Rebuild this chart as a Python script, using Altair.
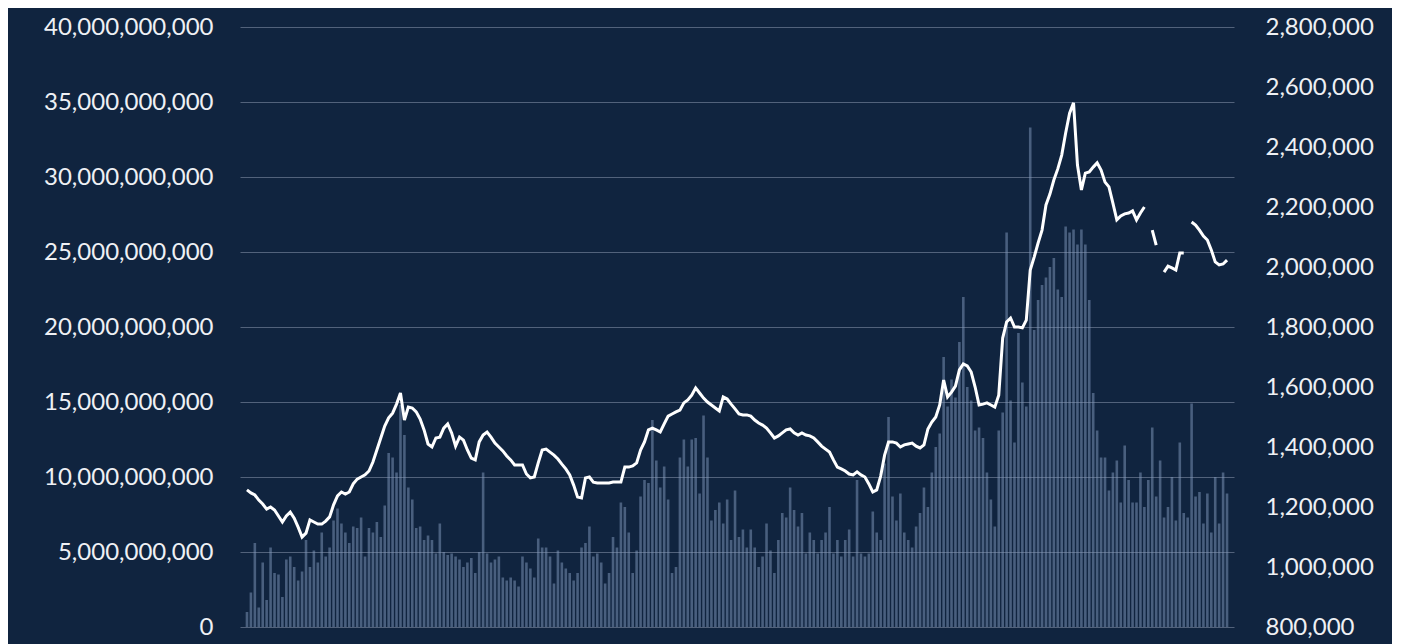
import altair as alt
import pandas as pd

# Daily turnover (in billions) and index level
volume_bn = [
    1.0, 2.3, 5.6, 1.3, 4.3, 1.8, 5.3, 3.6, 3.5, 2.0,
    4.5, 4.7, 4.0, 3.1, 3.7, 5.8, 4.0, 5.1, 4.3, 6.3,
    4.7, 5.3, 7.1, 7.9, 6.9, 6.3, 5.6, 6.7, 6.6, 7.3,
    4.7, 6.6, 6.3, 7.0, 6.0, 8.1, 11.6, 11.3, 10.3, 14.8,
    12.8, 9.3, 8.5, 6.6, 6.7, 5.8, 6.1, 5.8, 4.9, 6.9,
    5.0, 4.8, 4.9, 4.7, 4.5, 4.0, 4.3, 4.6, 3.6, 5.0,
    10.3, 4.9, 4.3, 4.5, 4.7, 3.3, 3.1, 3.3, 3.1, 2.7,
    4.7, 4.3, 3.9, 3.3, 5.9, 5.3, 5.3, 4.7, 2.9, 5.1,
    4.3, 3.9, 3.6, 3.1, 3.6, 5.3, 5.6, 6.7, 4.7, 4.9,
    4.3, 2.9, 3.6, 6.0, 5.3, 8.3, 8.0, 6.3, 3.6, 5.1,
    8.7, 9.8, 9.6, 13.8, 11.1, 9.3, 10.7, 8.5, 3.6, 4.0,
    11.3, 12.5, 10.7, 12.5, 12.6, 8.9, 14.1, 11.3, 7.1, 7.8,
    8.3, 6.9, 8.5, 5.8, 9.1, 6.0, 6.5, 5.3, 6.5, 5.3,
    4.0, 4.7, 6.9, 5.1, 3.6, 5.8, 7.6, 7.3, 9.3, 7.8,
    6.7, 7.6, 4.9, 6.3, 5.8, 4.9, 5.8, 6.3, 8.0, 4.9,
    5.8, 4.7, 5.8, 6.5, 4.7, 9.8, 4.9, 4.7, 4.9, 7.7,
    6.3, 5.8, 10.9, 14.0, 8.7, 7.1, 8.9, 6.3, 5.8, 5.3,
    6.7, 7.6, 9.3, 8.0, 10.3, 12.0, 12.9, 18.0, 14.7, 16.5,
    15.3, 19.0, 22.0, 16.0, 15.1, 13.1, 13.3, 12.6, 10.3, 8.5,
    6.7, 13.1, 14.3, 26.3, 15.1, 12.3, 19.6, 16.3, 14.7, 33.3,
    19.8, 21.8, 22.8, 23.3, 24.0, 24.6, 22.5, 22.0, 26.7, 26.3,
    26.5, 25.5, 26.5, 25.5, 21.8, 15.6, 13.1, 11.3, 11.3, 9.1,
    10.3, 11.1, 8.3, 12.1, 9.8, 8.3, 8.3, 10.3, 8.0, 9.8,
    13.3, 8.7, 11.1, 7.3, 8.0, 10.0, 7.1, 12.3, 7.6, 7.3,
    14.9, 8.7, 9.0, 6.9, 8.9, 6.3, 10.0, 6.9, 10.3, 8.9,
]

index_level = [
    1257000, 1247000, 1240000, 1223000, 1210000, 1193000, 1200000, 1190000, 1170000, 1150000,
    1170000, 1183000, 1163000, 1133000, 1100000, 1113000, 1157000, 1150000, 1143000, 1143000,
    1153000, 1167000, 1207000, 1237000, 1250000, 1243000, 1250000, 1277000, 1293000, 1300000,
    1307000, 1320000, 1350000, 1390000, 1430000, 1470000, 1497000, 1513000, 1543000, 1580000,
    1490000, 1533000, 1530000, 1517000, 1493000, 1457000, 1410000, 1400000, 1430000, 1433000,
    1463000, 1477000, 1447000, 1403000, 1433000, 1423000, 1390000, 1363000, 1357000, 1417000,
    1440000, 1450000, 1433000, 1413000, 1400000, 1387000, 1370000, 1357000, 1340000, 1340000,
    1340000, 1310000, 1297000, 1300000, 1347000, 1390000, 1393000, 1383000, 1373000, 1360000,
    1343000, 1327000, 1307000, 1273000, 1233000, 1230000, 1297000, 1300000, 1283000, 1280000,
    1280000, 1280000, 1280000, 1283000, 1283000, 1283000, 1333000, 1333000, 1337000, 1347000,
    1390000, 1417000, 1457000, 1463000, 1457000, 1450000, 1477000, 1503000, 1510000, 1517000,
    1523000, 1547000, 1557000, 1573000, 1597000, 1580000, 1563000, 1550000, 1540000, 1530000,
    1520000, 1567000, 1560000, 1543000, 1527000, 1510000, 1507000, 1507000, 1503000, 1490000,
    1480000, 1473000, 1463000, 1447000, 1430000, 1437000, 1447000, 1457000, 1460000, 1447000,
    1440000, 1447000, 1440000, 1437000, 1430000, 1417000, 1403000, 1393000, 1383000, 1357000,
    1333000, 1327000, 1320000, 1310000, 1307000, 1317000, 1307000, 1300000, 1277000, 1250000,
    1257000, 1303000, 1373000, 1417000, 1417000, 1413000, 1400000, 1407000, 1410000, 1413000,
    1403000, 1397000, 1407000, 1460000, 1483000, 1500000, 1540000, 1623000, 1567000, 1583000,
    1603000, 1657000, 1677000, 1670000, 1650000, 1600000, 1540000, 1543000, 1547000, 1540000,
    1533000, 1573000, 1763000, 1817000, 1830000, 1800000, 1800000, 1797000, 1823000, 1990000,
    2033000, 2080000, 2123000, 2207000, 2243000, 2290000, 2327000, 2373000, 2447000, 2513000,
    2547000, 2340000, 2257000, 2313000, 2317000, 2333000, 2347000, 2323000, 2283000, 2267000,
    2213000, 2157000, 2170000, 2177000, 2180000, 2187000, 2157000, 2180000, 2200000, None,
    2123000, 2073000, None, 1983000, 2003000, 1997000, 1990000, 2047000, 2047000, None,
    2150000, 2140000, 2123000, 2103000, 2090000, 2057000, 2017000, 2007000, 2010000, 2023000,
]

left_ticks = [0, 5e9, 10e9, 15e9, 20e9, 25e9, 30e9, 35e9, 40e9]
right_ticks = [800000, 1000000, 1200000, 1400000, 1600000, 1800000,
               2000000, 2200000, 2400000, 2600000, 2800000]

N = len(volume_bn)
df = pd.DataFrame({
    "idx": list(range(N)),
    "volume": [v * 1e9 for v in volume_bn],
    "level": index_level,
})

BG = "#10243f"
LABEL = "#eef0f4"
FONT = "Lato"

x_enc = alt.X("idx:Q", scale=alt.Scale(domain=[-0.5, N - 0.5], nice=False, zero=False), axis=None)

bars = alt.Chart(df).mark_bar(size=2.6, color="#8199be", opacity=0.5).encode(
    x=x_enc,
    y=alt.Y(
        "volume:Q",
        scale=alt.Scale(domain=[0, 40e9], nice=False),
        axis=alt.Axis(
            values=left_ticks, format=",d", title=None, grid=True,
            gridColor="#52627b", gridWidth=1, domain=False, ticks=False,
            labelPadding=27, labelFontSize=24, labelColor=LABEL, labelFont=FONT,
            labelFlush=False, labelOverlap=False,
        ),
    ),
)

line = alt.Chart(df).mark_line(color="#ffffff", strokeWidth=3).encode(
    x=x_enc,
    y=alt.Y(
        "level:Q",
        scale=alt.Scale(domain=[800000, 2800000], nice=False, zero=False),
        axis=alt.Axis(
            orient="right", values=right_ticks, format=",d", title=None,
            grid=False, domain=False, ticks=False,
            labelPadding=31, labelFontSize=24, labelColor=LABEL, labelFont=FONT,
            labelFlush=False, labelOverlap=False,
        ),
    ),
)

chart = (
    alt.layer(bars, line)
    .resolve_scale(y="independent")
    .properties(
        width=994,
        height=600,
        background=BG,
        padding={"left": 232, "top": 19, "right": 158, "bottom": 17},
        autosize=alt.AutoSizeParams(type="none"),
    )
    .configure_view(stroke=None)
)

chart.save("out.html", embed_options={"renderer": "svg", "actions": False})
